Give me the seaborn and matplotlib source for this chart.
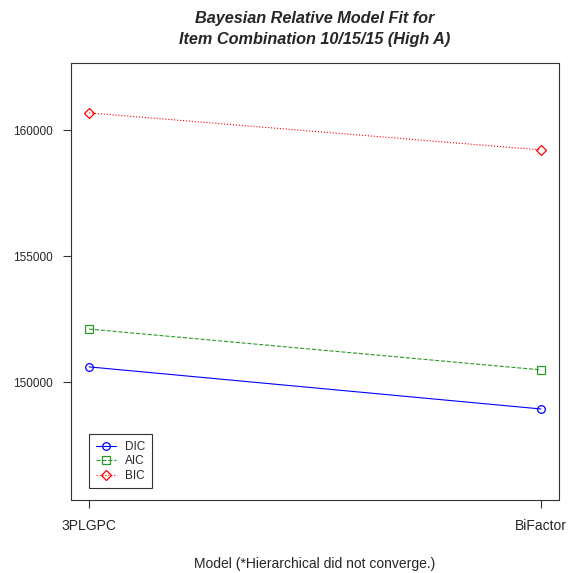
import matplotlib
matplotlib.use("Agg")
import matplotlib.pyplot as plt
import seaborn as sns
import pandas as pd

models = ["3PLGPC", "BiFactor"]
dic = [150600, 148930]
aic = [152100, 150480]
bic = [160680, 159210]
y_ticks = [150000, 155000, 160000]

sns.set_theme(style="white")
plt.rcParams["font.family"] = ["Liberation Sans", "DejaVu Sans"]

fig = plt.figure(figsize=(5.73, 5.73), dpi=100)
ax = fig.add_axes([0.1239, 0.1274, 0.8517, 0.7626])

series = [
    ("DIC", dic, "#0000FF", "-", "o"),
    ("AIC", aic, "#2A9A2A", "--", "s"),
    ("BIC", bic, "#FF0000", ":", "D"),
]
pos = list(range(1, len(models) + 1))
for name, vals, color, ls, mk in series:
    df = pd.DataFrame({"x": pos, "y": vals})
    sns.lineplot(data=df, x="x", y="y", ax=ax, color=color, linestyle=ls,
                 linewidth=0.8, marker=mk, markersize=5.5 if mk != "D" else 5,
                 markerfacecolor="none", markeredgecolor=color,
                 markeredgewidth=0.9, label=name)

ax.set_xlim(0.96, 2.04)
ax.set_ylim(145317, 162659)
ax.set_xticks(pos)
ax.set_xticklabels(models, fontsize=10)
ax.set_yticks(y_ticks)
ax.set_yticklabels([str(v) for v in y_ticks], fontsize=8.5)
ax.tick_params(axis="both", direction="out", length=6, width=0.8,
               color="#333333", bottom=True, left=True)
ax.tick_params(axis="y", pad=7)
ax.tick_params(axis="x", pad=8)
ax.set_xlabel("Model (*Hierarchical did not converge.)", fontsize=10, labelpad=17)
ax.set_ylabel("")
for sp in ax.spines.values():
    sp.set_color("#333333")
    sp.set_linewidth(0.8)

ax.set_title("Bayesian Relative Model Fit for\nItem Combination 10/15/15 (High A)",
             fontsize=11.7, fontweight="bold", fontstyle="italic", pad=14,
             linespacing=1.45)

leg = ax.legend(loc="lower left", bbox_to_anchor=(0.037, 0.027), fontsize=8.5,
                frameon=True, fancybox=False, edgecolor="black",
                handlelength=1.7, handletextpad=0.8, borderpad=0.55,
                labelspacing=0.2, borderaxespad=0)
leg.get_frame().set_linewidth(0.8)

fig.savefig("out.png", dpi=100)
